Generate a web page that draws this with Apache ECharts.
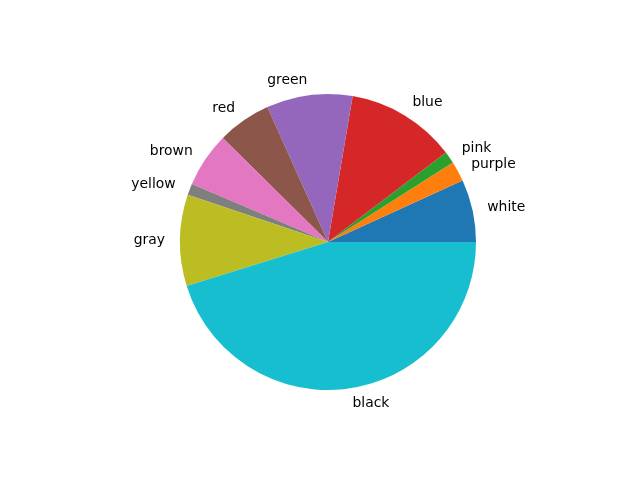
<!DOCTYPE html>
<html><head><meta charset="utf-8">
<script src="https://cdn.jsdelivr.net/npm/echarts@6/dist/echarts.min.js"></script>
<style>html,body{margin:0;padding:0;background:#fff}#c{width:640px;height:480px}</style>
</head><body><div id="c"></div>
<script>
const categories = ['white','purple','pink','blue','green','red','brown','yellow','gray','black'];
const values = [24.6, 7.9, 4.7, 43.2, 33.8, 21.1, 21.6, 4.5, 35.9, 162.7];
const colors = ['#1f77b4','#ff7f0e','#2ca02c','#d62728','#9467bd','#8c564b','#e377c2','#7f7f7f','#bcbd22','#17becf'];
const chart = echarts.init(document.getElementById('c'));
chart.setOption({
  animation: false,
  series: [{
    type: 'pie',
    center: [328, 242],
    radius: 148,
    startAngle: 0,
    clockwise: false,
    avoidLabelOverlap: false,
    itemStyle: { borderWidth: 0 },
    label: { show: true, position: 'outside', distanceToLabelLine: 0, color: '#000', fontFamily: 'DejaVu Sans', fontSize: 13.9, formatter: '{b}' },
    labelLine: { show: false, length: 15, length2: 0 },
    data: categories.map((n, i) => ({ name: n, value: values[i], itemStyle: { color: colors[i] } }))
  }]
});
</script></body></html>
